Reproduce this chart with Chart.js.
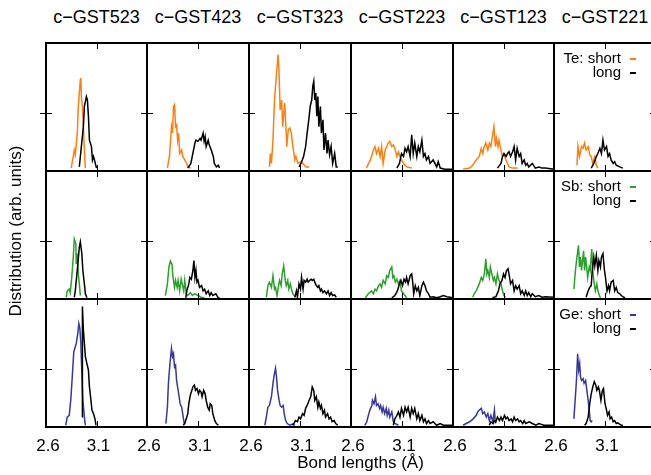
<!DOCTYPE html>
<html>
<head>
<meta charset="utf-8">
<script src="https://cdn.jsdelivr.net/npm/chart.js@4/dist/chart.umd.min.js"></script>
<style>
  html,body{margin:0;padding:0;background:#fff;}
  body{width:651px;height:475px;overflow:hidden;position:relative;font-family:"Liberation Sans",Arial,sans-serif;color:#000;}
  canvas{position:absolute;}
  .txt{position:absolute;white-space:nowrap;}
</style>
</head>
<body>
<script>
// ---------------- data ----------------
const columns = ['c\u2212GST523','c\u2212GST423','c\u2212GST323','c\u2212GST223','c\u2212GST123','c\u2212GST221'];
const elements = ['Te','Sb','Ge'];
const xTickValues = [2.6, 3.1];
const yTickValues = [1];
const xLabel = 'Bond lengths (\u00C5)';
const yLabel = 'Distribution (arb. units)';

// Te
const te523S = [[2.85,0.05],[2.87,0.25],[2.88,0.36],[2.89,0.28],[2.91,0.65],[2.92,1.11],[2.94,1.57],[2.945,1.60],[2.95,1.28],[2.96,1.11],[2.97,0.76],[2.98,0.36],[2.99,0.05]];
const te523L = [[2.93,0.07],[2.95,0.42],[2.97,0.76],[2.98,1.11],[3.00,1.28],[3.01,1.22],[3.02,0.94],[3.03,0.53],[3.05,0.42],[3.06,0.19],[3.07,0.25],[3.08,0.19],[3.10,0.05]];
const te423S = [[2.80,0.05],[2.82,0.25],[2.84,0.76],[2.85,0.65],[2.86,1.11],[2.87,1.14],[2.88,0.76],[2.89,0.79],[2.90,0.53],[2.91,0.65],[2.92,0.30],[2.94,0.36],[2.95,0.25],[2.97,0.19],[2.99,0.13],[3.00,0.07],[3.03,0.05]];
const te423L = [[3.00,0.05],[3.03,0.13],[3.07,0.48],[3.08,0.53],[3.10,0.51],[3.12,0.56],[3.13,0.53],[3.15,0.65],[3.16,0.51],[3.17,0.59],[3.18,0.42],[3.20,0.53],[3.21,0.45],[3.23,0.36],[3.25,0.25],[3.26,0.13],[3.28,0.07],[3.30,0.10],[3.31,0.05]];
const te323S = [[2.80,0.07],[2.81,0.30],[2.82,0.13],[2.835,0.53],[2.85,1.22],[2.87,1.68],[2.885,2.00],[2.895,1.68],[2.905,1.05],[2.92,1.22],[2.93,0.76],[2.95,1.17],[2.96,0.82],[2.97,0.42],[2.985,0.71],[3.00,0.74],[3.015,0.65],[3.03,0.42],[3.05,0.19],[3.06,0.25],[3.08,0.13],[3.11,0.16],[3.16,0.07],[3.19,0.07]];
const te323L = [[3.09,0.07],[3.11,0.13],[3.135,0.25],[3.155,0.42],[3.17,0.65],[3.19,0.94],[3.20,1.11],[3.215,1.22],[3.225,1.45],[3.235,1.54],[3.245,1.22],[3.255,1.34],[3.265,0.94],[3.275,1.28],[3.285,0.76],[3.30,1.11],[3.31,0.65],[3.325,0.88],[3.335,0.36],[3.35,0.65],[3.365,0.30],[3.375,0.53],[3.39,0.28],[3.405,0.42],[3.42,0.13],[3.44,0.30],[3.455,0.07],[3.47,0.07]];
const te223S = [[2.75,0.05],[2.79,0.19],[2.82,0.36],[2.835,0.42],[2.85,0.30],[2.87,0.39],[2.885,0.25],[2.90,0.42],[2.915,0.13],[2.935,0.36],[2.95,0.42],[2.965,0.48],[2.98,0.51],[3.00,0.42],[3.015,0.45],[3.03,0.39],[3.05,0.25],[3.065,0.33],[3.08,0.25],[3.095,0.19],[3.115,0.13],[3.145,0.07],[3.195,0.05]];
const te223L = [[3.05,0.05],[3.075,0.13],[3.095,0.30],[3.115,0.25],[3.13,0.39],[3.145,0.33],[3.16,0.42],[3.18,0.25],[3.195,0.62],[3.21,0.30],[3.225,0.48],[3.245,0.25],[3.26,0.42],[3.275,0.33],[3.295,0.53],[3.31,0.25],[3.325,0.30],[3.34,0.19],[3.36,0.25],[3.375,0.13],[3.405,0.19],[3.44,0.07],[3.455,0.16],[3.475,0.05],[3.52,0.03],[3.6,0.03]];
const te123S = [[2.70,0.03],[2.765,0.05],[2.795,0.10],[2.83,0.19],[2.86,0.25],[2.88,0.39],[2.895,0.30],[2.91,0.42],[2.925,0.48],[2.945,0.36],[2.96,0.48],[2.975,0.42],[2.99,0.59],[3.005,0.76],[3.02,0.42],[3.03,0.56],[3.045,0.42],[3.055,0.53],[3.075,0.36],[3.09,0.25],[3.105,0.28],[3.125,0.19],[3.14,0.13],[3.155,0.07],[3.19,0.05],[3.24,0.05]];
const te123L = [[3.04,0.05],[3.075,0.13],[3.09,0.25],[3.105,0.30],[3.125,0.25],[3.14,0.30],[3.155,0.33],[3.17,0.25],[3.19,0.33],[3.205,0.42],[3.22,0.19],[3.235,0.39],[3.255,0.25],[3.27,0.30],[3.285,0.13],[3.305,0.19],[3.32,0.10],[3.335,0.13],[3.35,0.07],[3.385,0.13],[3.415,0.05],[3.45,0.07],[3.48,0.05],[3.515,0.05],[3.6,0.03]];
const te221S = [[2.825,0.10],[2.835,0.42],[2.85,0.25],[2.87,0.42],[2.885,0.39],[2.90,0.48],[2.915,0.36],[2.935,0.42],[2.95,0.28],[2.965,0.25],[2.98,0.13],[3.00,0.25],[3.015,0.10],[3.03,0.05]];
const te221L = [[2.965,0.05],[2.99,0.13],[3.015,0.25],[3.03,0.30],[3.05,0.39],[3.065,0.30],[3.08,0.53],[3.095,0.36],[3.115,0.42],[3.13,0.25],[3.145,0.30],[3.16,0.19],[3.18,0.13],[3.195,0.16],[3.21,0.10],[3.245,0.07],[3.275,0.05]];

// Sb
const sb523S = [[2.80,0.03],[2.81,0.14],[2.83,0.17],[2.84,0.11],[2.855,0.37],[2.87,0.72],[2.88,1.03],[2.895,0.95],[2.90,0.60],[2.91,0.78],[2.92,0.43],[2.93,0.26],[2.94,0.06]];
const sb523L = [[2.88,0.03],[2.89,0.14],[2.90,0.32],[2.915,0.60],[2.93,0.89],[2.94,0.98],[2.955,0.78],[2.965,0.49],[2.98,0.26],[2.99,0.09],[3.005,0.02]];
const sb423S = [[2.78,0.06],[2.80,0.26],[2.815,0.55],[2.83,0.65],[2.845,0.60],[2.855,0.37],[2.87,0.20],[2.88,0.32],[2.895,0.20],[2.905,0.32],[2.92,0.14],[2.935,0.34],[2.945,0.26],[2.96,0.14],[2.97,0.32],[2.985,0.09],[3.00,0.06],[3.025,0.11],[3.045,0.06],[3.065,0.09],[3.10,0.06],[3.13,0.03],[3.165,0.02]];
const sb423L = [[2.98,0.02],[2.99,0.14],[3.01,0.26],[3.02,0.37],[3.035,0.34],[3.05,0.49],[3.06,0.66],[3.07,0.37],[3.08,0.49],[3.09,0.29],[3.10,0.32],[3.115,0.20],[3.135,0.23],[3.15,0.14],[3.165,0.17],[3.18,0.09],[3.20,0.14],[3.215,0.06],[3.23,0.11],[3.245,0.06],[3.275,0.09],[3.295,0.03],[3.31,0.02]];
const sb323S = [[2.77,0.03],[2.785,0.23],[2.80,0.29],[2.82,0.20],[2.835,0.40],[2.85,0.17],[2.86,0.20],[2.875,0.06],[2.89,0.23],[2.90,0.32],[2.915,0.23],[2.925,0.43],[2.94,0.57],[2.955,0.32],[2.965,0.23],[2.98,0.32],[2.99,0.17],[3.005,0.26],[3.02,0.14],[3.03,0.09],[3.055,0.03]];
const sb323L = [[3.05,0.03],[3.065,0.14],[3.075,0.03],[3.09,0.26],[3.105,0.17],[3.115,0.37],[3.13,0.17],[3.14,0.32],[3.155,0.29],[3.17,0.34],[3.18,0.29],[3.195,0.32],[3.21,0.34],[3.22,0.32],[3.235,0.34],[3.245,0.29],[3.26,0.23],[3.275,0.20],[3.285,0.23],[3.30,0.14],[3.31,0.17],[3.325,0.11],[3.34,0.14],[3.36,0.09],[3.375,0.14],[3.39,0.06],[3.405,0.11],[3.42,0.06],[3.44,0.07],[3.455,0.03]];
const sb223S = [[2.74,0.02],[2.77,0.09],[2.80,0.14],[2.82,0.09],[2.835,0.17],[2.85,0.14],[2.87,0.23],[2.885,0.26],[2.90,0.20],[2.915,0.32],[2.935,0.26],[2.95,0.40],[2.965,0.37],[2.98,0.49],[3.00,0.55],[3.01,0.37],[3.02,0.40],[3.035,0.29],[3.05,0.34],[3.065,0.26],[3.08,0.32],[3.095,0.14],[3.115,0.09],[3.13,0.06],[3.145,0.02]];
const sb223L = [[3.00,0.02],[3.03,0.06],[3.055,0.14],[3.075,0.26],[3.09,0.32],[3.105,0.23],[3.12,0.34],[3.135,0.29],[3.145,0.37],[3.16,0.26],[3.18,0.40],[3.195,0.43],[3.205,0.29],[3.215,0.09],[3.23,0.23],[3.245,0.14],[3.26,0.20],[3.275,0.06],[3.295,0.23],[3.31,0.29],[3.325,0.23],[3.34,0.14],[3.36,0.09],[3.375,0.03],[3.405,0.04],[3.44,0.02],[3.475,0.04],[3.505,0.06],[3.54,0.04],[3.6,0.02]];
const sb123S = [[2.795,0.03],[2.81,0.09],[2.83,0.14],[2.845,0.20],[2.86,0.26],[2.88,0.37],[2.895,0.32],[2.91,0.43],[2.925,0.69],[2.935,0.43],[2.945,0.49],[2.96,0.37],[2.97,0.55],[2.985,0.43],[3.00,0.32],[3.01,0.37],[3.025,0.26],[3.04,0.43],[3.055,0.32],[3.075,0.26],[3.09,0.14],[3.105,0.06],[3.12,0.03]];
const sb123L = [[2.99,0.02],[3.025,0.04],[3.05,0.14],[3.065,0.26],[3.085,0.32],[3.10,0.43],[3.115,0.37],[3.13,0.49],[3.145,0.52],[3.16,0.37],[3.17,0.26],[3.19,0.32],[3.205,0.14],[3.22,0.23],[3.235,0.17],[3.255,0.23],[3.27,0.09],[3.285,0.14],[3.305,0.06],[3.32,0.14],[3.335,0.06],[3.35,0.11],[3.37,0.04],[3.385,0.09],[3.415,0.04],[3.45,0.06],[3.48,0.03],[3.515,0.04],[3.6,0.03]];
const sb221S = [[2.795,0.17],[2.81,0.49],[2.825,0.72],[2.84,0.92],[2.85,0.55],[2.86,0.72],[2.87,0.49],[2.88,0.66],[2.89,0.83],[2.90,0.49],[2.91,0.72],[2.92,0.55],[2.93,0.37],[2.945,0.55],[2.955,0.49],[2.97,0.86],[2.98,0.49],[2.99,0.32],[3.005,0.14],[3.02,0.26],[3.03,0.14],[3.045,0.06],[3.055,0.02]];
const sb221L = [[2.915,0.03],[2.935,0.14],[2.95,0.20],[2.965,0.23],[2.975,0.49],[2.99,0.72],[3.00,0.57],[3.015,0.75],[3.03,0.49],[3.04,0.66],[3.055,0.55],[3.065,0.72],[3.08,0.78],[3.095,0.49],[3.105,0.37],[3.12,0.14],[3.135,0.23],[3.145,0.14],[3.16,0.29],[3.18,0.32],[3.195,0.14],[3.21,0.20],[3.225,0.11],[3.245,0.09],[3.26,0.06],[3.275,0.04],[3.295,0.02]];

// Ge
const ge523S = [[2.795,0.03],[2.81,0.17],[2.83,0.20],[2.845,0.46],[2.86,0.86],[2.875,1.29],[2.89,1.38],[2.90,1.44],[2.915,1.61],[2.925,1.78],[2.935,1.70],[2.945,1.44],[2.955,0.92],[2.965,0.46],[2.98,0.17],[2.99,0.03]];
const ge523L = [[2.957,0.17],[2.958,1.50],[2.963,2.07],[2.97,1.67],[2.98,1.44],[2.99,1.21],[3.005,1.09],[3.02,0.98],[3.03,0.69],[3.045,0.46],[3.055,0.29],[3.07,0.23],[3.085,0.14],[3.095,0.03]];
const ge423S = [[2.785,0.06],[2.80,0.34],[2.81,0.75],[2.825,1.09],[2.84,1.35],[2.85,1.21],[2.86,1.26],[2.87,1.03],[2.88,1.06],[2.89,0.80],[2.90,0.69],[2.915,0.52],[2.925,0.40],[2.94,0.34],[2.955,0.17],[2.965,0.06]];
const ge423L = [[2.955,0.03],[2.97,0.06],[2.985,0.14],[3.00,0.23],[3.01,0.40],[3.025,0.55],[3.04,0.63],[3.05,0.69],[3.065,0.72],[3.075,0.63],[3.09,0.66],[3.105,0.57],[3.115,0.63],[3.13,0.60],[3.14,0.52],[3.155,0.63],[3.17,0.57],[3.18,0.46],[3.195,0.34],[3.21,0.29],[3.22,0.40],[3.235,0.37],[3.245,0.23],[3.265,0.11],[3.28,0.06],[3.30,0.03]];
const ge323S = [[2.755,0.03],[2.77,0.17],[2.785,0.34],[2.80,0.37],[2.82,0.52],[2.835,0.75],[2.85,0.92],[2.86,1.01],[2.87,0.86],[2.88,0.63],[2.895,0.46],[2.905,0.37],[2.92,0.34],[2.935,0.37],[2.945,0.23],[2.96,0.11],[2.975,0.06],[3.00,0.03],[3.025,0.05],[3.05,0.03]];
const ge323L = [[3.025,0.03],[3.04,0.06],[3.055,0.11],[3.075,0.09],[3.09,0.17],[3.105,0.14],[3.125,0.23],[3.14,0.20],[3.155,0.32],[3.17,0.37],[3.19,0.46],[3.205,0.52],[3.22,0.69],[3.235,0.63],[3.245,0.46],[3.26,0.52],[3.275,0.34],[3.285,0.43],[3.30,0.32],[3.31,0.37],[3.325,0.23],[3.34,0.29],[3.35,0.17],[3.37,0.23],[3.385,0.14],[3.40,0.17],[3.415,0.09],[3.435,0.11],[3.45,0.06],[3.47,0.03]];
const ge223S = [[2.735,0.03],[2.755,0.09],[2.77,0.20],[2.785,0.29],[2.805,0.37],[2.81,0.46],[2.825,0.40],[2.84,0.52],[2.85,0.37],[2.865,0.40],[2.88,0.32],[2.89,0.37],[2.905,0.26],[2.915,0.34],[2.93,0.23],[2.945,0.32],[2.955,0.20],[2.97,0.29],[2.98,0.17],[3.00,0.26],[3.015,0.09],[3.03,0.06],[3.065,0.03]];
const ge223L = [[3.015,0.03],[3.03,0.14],[3.05,0.20],[3.065,0.26],[3.08,0.17],[3.095,0.32],[3.115,0.20],[3.13,0.34],[3.145,0.26],[3.16,0.34],[3.18,0.17],[3.195,0.32],[3.21,0.23],[3.225,0.32],[3.245,0.14],[3.26,0.23],[3.275,0.11],[3.295,0.20],[3.31,0.09],[3.325,0.14],[3.34,0.06],[3.36,0.11],[3.375,0.06],[3.405,0.09],[3.44,0.03],[3.475,0.06],[3.505,0.03],[3.6,0.03]];
const ge123S = [[2.70,0.03],[2.73,0.06],[2.765,0.09],[2.80,0.14],[2.83,0.20],[2.845,0.26],[2.86,0.29],[2.88,0.32],[2.895,0.23],[2.91,0.26],[2.93,0.17],[2.945,0.23],[2.96,0.11],[2.975,0.20],[2.995,0.09],[3.01,0.29],[3.02,0.06]];
const ge123L = [[2.96,0.03],[2.975,0.09],[2.995,0.06],[3.01,0.11],[3.025,0.09],[3.04,0.17],[3.06,0.11],[3.075,0.17],[3.09,0.11],[3.11,0.20],[3.125,0.14],[3.14,0.17],[3.155,0.11],[3.175,0.14],[3.19,0.09],[3.205,0.17],[3.22,0.11],[3.24,0.14],[3.255,0.09],[3.27,0.11],[3.29,0.06],[3.305,0.11],[3.32,0.06],[3.355,0.09],[3.385,0.06],[3.42,0.03],[3.45,0.06],[3.50,0.03],[3.6,0.03]];
const ge221S = [[2.795,0.14],[2.805,0.40],[2.82,0.80],[2.832,1.26],[2.842,0.98],[2.852,1.09],[2.86,0.86],[2.87,0.80],[2.885,0.83],[2.895,0.75],[2.91,0.80],[2.92,0.66],[2.935,0.46],[2.945,0.29],[2.955,0.11],[2.965,0.09],[2.975,0.11]];
const ge221L = [[2.90,0.03],[2.915,0.06],[2.935,0.17],[2.95,0.40],[2.965,0.57],[2.98,0.69],[2.995,0.78],[3.01,0.72],[3.02,0.63],[3.035,0.69],[3.045,0.63],[3.06,0.46],[3.075,0.63],[3.085,0.66],[3.10,0.40],[3.115,0.29],[3.125,0.20],[3.14,0.26],[3.15,0.14],[3.165,0.17],[3.18,0.09],[3.195,0.11],[3.21,0.06],[3.225,0.07],[3.26,0.03],[3.275,0.03]];

const shortSeries = [
  [te523S, te423S, te323S, te223S, te123S, te221S],
  [sb523S, sb423S, sb323S, sb223S, sb123S, sb221S],
  [ge523S, ge423S, ge323S, ge223S, ge123S, ge221S]
];
const longSeries = [
  [te523L, te423L, te323L, te223L, te123L, te221L],
  [sb523L, sb423L, sb323L, sb223L, sb123L, sb221L],
  [ge523L, ge423L, ge323L, ge223L, ge123L, ge221L]
];

// ---------------- style / layout ----------------
const FONT = '"Liberation Sans", Arial, sans-serif';
const shortColors = ['#ff7f0e', '#2ca02c', '#36389e'];
const longColor = '#000000';
const colLeft = [46, 147, 249, 351, 453, 554];
const colWidth = [101, 102, 102, 102, 101, 102];
const rowTop = [43, 171, 299];
const PH = 128;
const PADX = 16, PADY = 8, AXIS_H = 40;

const framePlugin = {
  id: 'frame',
  afterDraw(chart) {
    const {ctx, chartArea: a, scales: {x, y}} = chart;
    ctx.save();
    ctx.strokeStyle = '#000';
    ctx.lineWidth = 2;
    ctx.strokeRect(a.left, a.top, a.right - a.left, a.bottom - a.top);
    ctx.lineWidth = 1;
    ctx.beginPath();
    xTickValues.forEach(v => {
      if (v <= x.min || v >= x.max) return;
      const px = Math.round(x.getPixelForValue(v)) + 0.5;
      ctx.moveTo(px, a.top); ctx.lineTo(px, a.top + 6);
      ctx.moveTo(px, a.bottom); ctx.lineTo(px, a.bottom - 6);
    });
    yTickValues.forEach(v => {
      const py = Math.round(y.getPixelForValue(v)) + 0.5;
      ctx.moveTo(a.left - 6, py); ctx.lineTo(a.left + 6, py);
      ctx.moveTo(a.right - 6, py); ctx.lineTo(a.right + 6, py);
    });
    ctx.stroke();
    ctx.restore();
  }
};

function toXY(arr) { return arr.map(([x, y]) => ({x, y})); }

for (let r = 0; r < 3; r++) {
  for (let c = 0; c < 6; c++) {
    const bottomRow = r === 2;
    const cv = document.createElement('canvas');
    const w = colWidth[c] + 2 * PADX;
    const h = PH + 2 * PADY + (bottomRow ? AXIS_H : 0);
    cv.width = w; cv.height = h;
    cv.style.width = w + 'px'; cv.style.height = h + 'px';
    cv.style.left = (colLeft[c] - PADX) + 'px';
    cv.style.top = (rowTop[r] - PADY) + 'px';
    document.body.appendChild(cv);
    new Chart(cv, {
      type: 'line',
      data: {
        datasets: [
          {label: elements[r] + ' short', data: toXY(shortSeries[r][c]), borderColor: shortColors[r], borderWidth: 1.5, pointRadius: 0, fill: false, tension: 0, order: 1},
          {label: elements[r] + ' long', data: toXY(longSeries[r][c]), borderColor: longColor, borderWidth: 1.5, pointRadius: 0, fill: false, tension: 0, order: 0}
        ]
      },
      options: {
        responsive: false, animation: false, events: [],
        layout: {padding: {left: PADX, right: PADX, top: PADY, bottom: PADY}},
        plugins: {legend: {display: false}, tooltip: {enabled: false}},
        scales: {
          x: {
            type: 'linear', min: 2.6, max: 3.6, display: bottomRow,
            afterBuildTicks: s => { s.ticks = xTickValues.map(v => ({value: v})); },
            afterFit: s => { s.height = bottomRow ? AXIS_H : 0; s.paddingLeft = 0; s.paddingRight = 0; },
            grid: {display: false, drawTicks: false},
            border: {display: false},
            ticks: {padding: 9, labelOffset: 2, autoSkip: false, maxRotation: 0, minRotation: 0, color: '#000',
                    font: {family: FONT, size: 17}, callback: v => Number(v).toFixed(1)}
          },
          y: {
            type: 'linear', min: 0, max: 2.2, display: false,
            afterBuildTicks: s => { s.ticks = yTickValues.map(v => ({value: v})); }
          }
        }
      },
      plugins: [framePlugin]
    });
  }
}

// ---------------- text ----------------
function addText(txt, css) {
  const d = document.createElement('div');
  d.className = 'txt';
  d.textContent = txt;
  Object.assign(d.style, css);
  document.body.appendChild(d);
  return d;
}
columns.forEach((name, c) => {
  addText(name, {left: colLeft[c] + 'px', top: '8px', width: colWidth[c] + 'px', textAlign: 'center', fontSize: '18px', lineHeight: '18px'});
});
addText(xLabel, {left: '360.5px', top: '454px', transform: 'translateX(-50%)', fontSize: '17px', lineHeight: '17px'});
addText(yLabel, {left: '15px', top: '231px', transform: 'translate(-50%,-50%) rotate(-90deg)', fontSize: '17px', lineHeight: '17px'});

elements.forEach((el, r) => {
  const top = rowTop[r];
  const d = document.createElement('div');
  d.className = 'txt';
  Object.assign(d.style, {right: (651 - 621) + 'px', top: (top + 8) + 'px', textAlign: 'right', fontSize: '15px', lineHeight: '14px'});
  d.innerHTML = el + ': short<br>long';
  document.body.appendChild(d);
  [[shortColors[r], 15.5], [longColor, 29.5]].forEach(([col, off]) => {
    const s = document.createElement('div');
    Object.assign(s.style, {position: 'absolute', left: '630px', top: (top + off - 1) + 'px', width: '6px', height: '2px', background: col});
    document.body.appendChild(s);
  });
});
</script>
</body>
</html>
